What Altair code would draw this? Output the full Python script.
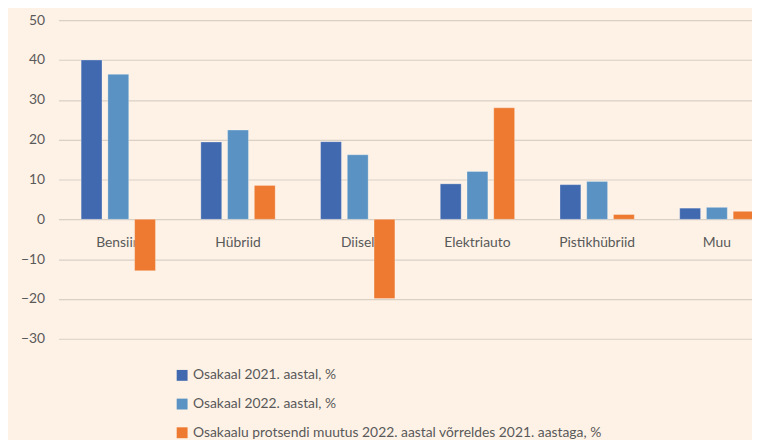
import altair as alt
import pandas as pd

categories = ["Bensiin", "Hübriid", "Diisel", "Elektriauto", "Pistikhübriid", "Muu"]
series = [
    "Osakaal 2021. aastal, %",
    "Osakaal  2022. aastal, %",
    "Osakaalu protsendi muutus 2022. aastal võrreldes 2021. aastaga, %",
]
share_2021 = [40.0, 19.4, 19.5, 8.9, 8.7, 2.8]
share_2022 = [36.4, 22.4, 16.2, 12.0, 9.5, 3.0]
change_pct = [-12.9, 8.5, -19.9, 28.0, 1.2, 2.0]
colors = ["#4169b0", "#5a93c3", "#ed7a30"]
y_ticks = [-30, -20, -10, 0, 10, 20, 30, 40, 50]

rows = []
for i, c in enumerate(categories):
    for s, vals in zip(series, [share_2021, share_2022, change_pct]):
        rows.append({"cat": c, "series": s, "value": vals[i]})
df = pd.DataFrame(rows)

FONT = "Lato"
TXT = "#595959"
GRID = "#d9d0c6"

bars = alt.Chart(df).mark_bar(stroke="#ffffff", strokeOpacity=0.35, strokeWidth=0.8).encode(
    x=alt.X("cat:N", sort=categories, title=None,
            scale=alt.Scale(paddingInner=0.33, paddingOuter=0.165, range=[0, 726]),
            axis=alt.Axis(orient="bottom", offset=-121, domain=False, ticks=False,
                          labelAngle=0, labelFont=FONT, labelFontSize=14,
                          labelColor=TXT, labelPadding=17, grid=False)),
    xOffset=alt.XOffset("series:N", sort=series,
                        scale=alt.Scale(paddingInner=0.22, paddingOuter=0.11)),
    y=alt.Y("value:Q", title=None,
            scale=alt.Scale(domain=[-30, 50], nice=False, zero=False),
            axis=alt.Axis(values=y_ticks, domain=False, ticks=False, tickSize=0,
                          labelFont=FONT, labelFontSize=14, labelColor=TXT,
                          labelPadding=14, grid=True, gridColor=GRID,
                          gridWidth=1.2)),
    color=alt.Color("series:N", sort=series,
                    scale=alt.Scale(domain=series, range=colors),
                    legend=alt.Legend(title=None, orient="none", legendX=118,
                                      legendY=352, direction="vertical",
                                      symbolType="square", symbolSize=121,
                                      symbolStrokeWidth=0, labelFont=FONT,
                                      labelFontSize=14, labelColor=TXT,
                                      labelLimit=0, labelOffset=4,
                                      rowPadding=15)),
)

chart = bars.properties(
    width=701, height=322,
    background="#fef2e6",
    padding={"left": 51, "top": 10, "right": 0, "bottom": 100},
    autosize=alt.AutoSizeParams(type="none"),
).configure_view(stroke=None)

chart.save("out.html", embed_options={"renderer": "svg", "actions": False})
